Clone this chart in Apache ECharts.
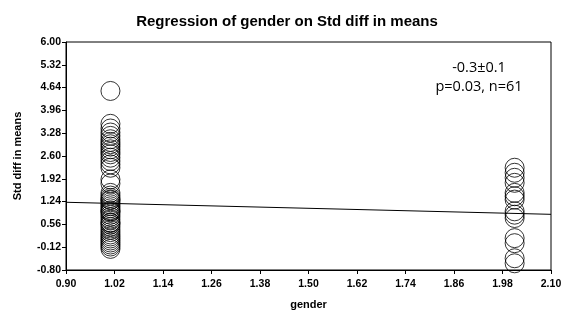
<!DOCTYPE html>
<html>
<head>
<meta charset="utf-8">
<script src="https://cdn.jsdelivr.net/npm/echarts@6/dist/echarts.min.js"></script>
<style>html,body{margin:0;padding:0;background:#fff}#c{width:574px;height:320px}</style>
</head>
<body>
<div id="c"></div>
<script>
// ---- data ----
const xTickLabels = ['0.90','1.02','1.14','1.26','1.38','1.50','1.62','1.74','1.86','1.98','2.10'];
const yTickLabels = ['-0.80','-0.12','0.56','1.24','1.92','2.60','3.28','3.96','4.64','5.32','6.00'];
const group1X = 1.01;
const group1Y = [4.54, 3.56, 3.42, 3.30, 3.20, 3.10, 3.02, 2.95, 2.88, 2.80, 2.72, 2.65, 2.55, 2.45, 2.35, 2.25,
  1.90, 1.78, 1.50, 1.42, 1.35, 1.30, 1.28, 1.22, 1.16, 1.10, 1.04, 0.98, 0.95, 0.92, 0.85, 0.78, 0.70, 0.62,
  0.60, 0.55, 0.48, 0.40, 0.33, 0.26, 0.20, 0.14, 0.08, 0.02, -0.04, -0.10, -0.17];
const group2X = 2.01;
const group2Y = [2.25, 2.10, 1.95, 1.80, 1.50, 1.40, 1.30, 0.95, 0.85, 0.75, 0.15, 0.00, -0.45, -0.60];
const lineX = [0.90, 2.10];
const lineY = [1.22, 0.86];
const statText = ['-0.3±0.1', 'p=0.03, n=61'];

// axis offsets so ticks start from a multiple of the interval
const X0 = 0.90, XI = 0.12, Y0 = -0.80, YI = 0.68;
const pts = group1Y.map(v => [group1X - X0, v - Y0]).concat(group2Y.map(v => [group2X - X0, v - Y0]));
const line = lineX.map((x, i) => [x - X0, lineY[i] - Y0]);

const chart = echarts.init(document.getElementById('c'));
const axisFont = { fontFamily: 'Liberation Sans, Arial', fontWeight: 'bold', fontSize: 10.5, color: '#000' };
chart.setOption({
  animation: false,
  title: {
    text: 'Regression of gender on Std diff in means',
    left: 'center', top: 9,
    textStyle: { fontFamily: 'Liberation Sans, Arial', fontWeight: 'bold', fontSize: 15, color: '#000' }
  },
  grid: { left: 66, right: 23, top: 42, bottom: 50, show: true, borderColor: '#000', borderWidth: 1 },
  xAxis: {
    type: 'value', min: 0, max: 1.2, interval: XI,
    name: 'gender', nameLocation: 'middle', nameGap: 29,
    nameTextStyle: { fontFamily: 'Liberation Sans, Arial', fontWeight: 'bold', fontSize: 11, color: '#000' },
    axisLine: { show: true, lineStyle: { color: '#000', width: 1 } },
    axisTick: { show: true, length: 4, lineStyle: { color: '#000' } },
    splitLine: { show: false },
    axisLabel: Object.assign({ margin: 9, formatter: (v) => xTickLabels[Math.round(v / XI)] }, axisFont)
  },
  yAxis: {
    type: 'value', min: 0, max: 6.8, interval: YI,
    name: 'Std diff in means', nameLocation: 'middle', nameGap: 43, nameRotate: 90,
    nameTextStyle: { fontFamily: 'Liberation Sans, Arial', fontWeight: 'bold', fontSize: 11, color: '#000' },
    axisLine: { show: true, lineStyle: { color: '#000', width: 1 } },
    axisTick: { show: true, length: 4, lineStyle: { color: '#000' } },
    splitLine: { show: false },
    axisLabel: Object.assign({ margin: 5, formatter: (v) => yTickLabels[Math.round(v / YI)] }, axisFont)
  },
  series: [
    {
      type: 'line', data: line, symbol: 'none', silent: true,
      lineStyle: { color: '#000', width: 1 }, z: 1
    },
    {
      type: 'scatter', data: pts, symbol: 'circle', symbolSize: 19,
      itemStyle: { color: 'rgba(0,0,0,0)', borderColor: '#000', borderWidth: 1 }, z: 2
    }
  ],
  graphic: [
    { type: 'text', x: 479, y: 68, style: { text: statText[0], font: '14.5px "Open Sans", Lato, sans-serif', fill: '#000', textAlign: 'center', textVerticalAlign: 'middle' } },
    { type: 'text', x: 479, y: 87, style: { text: statText[1], font: '14.5px "Open Sans", Lato, sans-serif', fill: '#000', textAlign: 'center', textVerticalAlign: 'middle' } }
  ]
});
</script>
</body>
</html>
